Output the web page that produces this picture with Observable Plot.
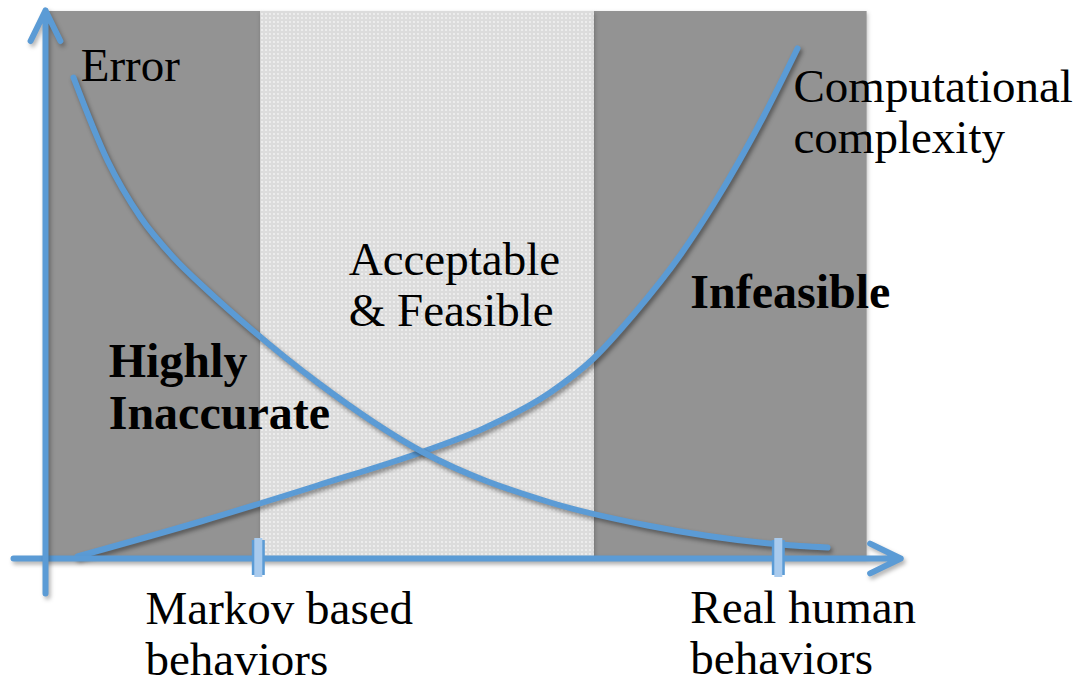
<!DOCTYPE html>
<html>
<head>
<meta charset="utf-8">
<script src="https://cdn.jsdelivr.net/npm/d3@7"></script>
<script src="https://cdn.jsdelivr.net/npm/@observablehq/plot@0.6"></script>
<style>
  body { margin: 0; background: #fff; }
  #chart svg { display: block; background: #fff; }
  #chart svg g[aria-label="line"] path { filter: drop-shadow(2px 3px 2px rgba(0,0,0,0.4)); }
  #chart svg g[aria-label="arrow"] path { filter: drop-shadow(2px 3px 2px rgba(0,0,0,0.3)); }
  #chart svg g[aria-label="rect"] rect { filter: drop-shadow(1px 2px 2px rgba(0,0,0,0.25)); }
</style>
</head>
<body>
<div id="chart"></div>
<script>
// ---- Data (abstract units: x = behaviour realism, y = magnitude) ----
const errorX = [0.35, 0.775, 1.19, 1.6, 2.025, 2.56, 3.4, 4.725, 6.31, 7.525, 9.19, 9.775];
const errorY = [9.62, 7.96, 6.82, 6.02, 5.36, 4.6, 3.52, 2.12, 1.12, 0.66, 0.28, 0.22];

const complexityX = [0.4, 1.94, 3.4, 4.725, 5.475, 6.31, 6.85, 7.35, 7.94, 8.35, 8.975, 9.4];
const complexityY = [0.04, 0.74, 1.46, 2.14, 2.6, 3.32, 4.0, 4.88, 6.08, 7.08, 8.84, 10.2];

// region boundaries along x, and top of the regions
const zoneStart = [0, 2.69, 6.86];
const zoneEnd = [2.69, 6.86, 10.27];
const zoneKind = ["dark", "light", "dark"];
const zoneTop = 10.94;

// axis extents
const axisXStart = -0.4, axisXEnd = 10.69;
const axisYStart = -0.7, axisYEnd = 10.96;

// tick positions on x axis
const tickX = [2.66, 9.16];
const tickLabels = ["Markov based\nbehaviors", "Real human\nbehaviors"];
const tickLabelX = [1.25, 8.06];
const tickLabelY = [-2.32, -2.3];

// annotation labels
const noteText = ["Error", "Computational\ncomplexity", "Acceptable\n& Feasible"];
const noteX = [0.44, 9.35, 3.79];
const noteY = [9.56, 8.12, 4.66];
const boldText = ["Highly\nInaccurate", "Infeasible"];
const boldX = [0.79, 8.06];
const boldY = [2.6, 5.02];

// ---- Build tables ----
const errorData = errorX.map((x, i) => ({x, y: errorY[i]}));
const complexityData = complexityX.map((x, i) => ({x, y: complexityY[i]}));
const zones = zoneStart.map((s, i) => ({x1: s, x2: zoneEnd[i], kind: zoneKind[i]}));
const ticks = tickX.map((x, i) => ({x, label: tickLabels[i], lx: tickLabelX[i], ly: tickLabelY[i]}));
const notes = noteText.map((t, i) => ({t, x: noteX[i], y: noteY[i]}));
const bolds = boldText.map((t, i) => ({t, x: boldX[i], y: boldY[i]}));

const blue = "#5b9bd5";
const font = "'Liberation Serif', 'Times New Roman', serif";

const chart = Plot.plot({
  width: 1089,
  height: 685,
  margin: 0,
  x: {domain: [-0.5625, 13.05], axis: null},
  y: {domain: [-2.54, 11.16], axis: null},
  style: {fontFamily: font, background: "#fff"},
  marks: [
    Plot.rect(zones.filter(d => d.kind === "dark"), {x1: "x1", x2: "x2", y1: 0, y2: zoneTop, fill: "#939393"}),
    Plot.rect(zones.filter(d => d.kind === "light"), {x1: "x1", x2: "x2", y1: 0, y2: zoneTop, fill: "url(#dots)"}),
    Plot.line(complexityData, {x: "x", y: "y", stroke: blue, strokeWidth: 6, curve: "monotone-x", strokeLinecap: "round"}),
    Plot.line(errorData, {x: "x", y: "y", stroke: blue, strokeWidth: 6, curve: "monotone-x", strokeLinecap: "round"}),
    Plot.arrow([{}], {x1: axisXStart, x2: axisXEnd, y1: 0, y2: 0, stroke: blue, strokeWidth: 6, headLength: 8.5, headAngle: 52, strokeLinecap: "round", strokeLinejoin: "round"}),
    Plot.arrow([{}], {x1: 0, x2: 0, y1: axisYStart, y2: axisYEnd, stroke: blue, strokeWidth: 6, headLength: 8.5, headAngle: 52, strokeLinecap: "round", strokeLinejoin: "round"}),
    Plot.ruleX(ticks, {x: "x", y1: -0.34, y2: 0.36, stroke: blue, strokeWidth: 13}),
    Plot.ruleX(ticks, {x: "x", y1: -0.34, y2: 0.36, stroke: "#a9cbee", strokeWidth: 8, insetTop: 2, insetBottom: 2}),
    Plot.text(ticks, {x: "lx", y: "ly", text: "label", textAnchor: "start", lineAnchor: "bottom", lineHeight: 1.07, fontSize: 47, fill: "#000"}),
    Plot.text(notes, {x: "x", y: "y", text: "t", textAnchor: "start", lineAnchor: "bottom", lineHeight: 1.07, fontSize: 47, fill: "#000"}),
    Plot.text(bolds, {x: "x", y: "y", text: "t", textAnchor: "start", lineAnchor: "bottom", lineHeight: 1.07, fontSize: 48, fontWeight: "bold", fill: "#000"})
  ]
});

// dotted texture for the "acceptable" band
const svg = d3.select(chart);
const defs = svg.insert("defs", ":first-child");
const pat = defs.append("pattern").attr("id", "dots").attr("patternUnits", "userSpaceOnUse").attr("width", 4).attr("height", 4);
pat.append("rect").attr("width", 4).attr("height", 4).attr("fill", "#dcdcdc");
pat.append("circle").attr("cx", 2).attr("cy", 2).attr("r", 0.9).attr("fill", "#f5f5f5");

document.getElementById("chart").appendChild(chart);
</script>
</body>
</html>
